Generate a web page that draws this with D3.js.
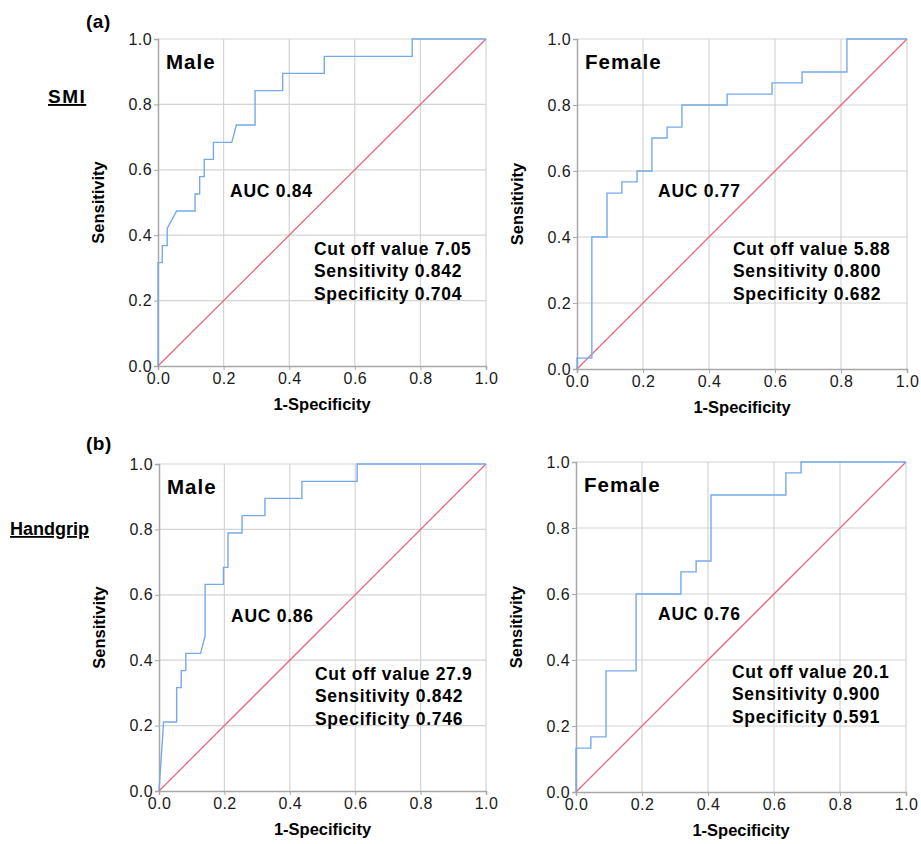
<!DOCTYPE html>
<html>
<head>
<meta charset="utf-8">
<script src="https://cdn.jsdelivr.net/npm/d3@7"></script>
<style>
  body { margin: 0; background: #fff; }
  svg { font-family: "Liberation Sans", Arial, sans-serif; }
</style>
</head>
<body>
<div id="chart"></div>
<script>
// ROC step points (1-specificity, sensitivity)
var maleSmiFpr = [0, 0, 0.013, 0.013, 0.028, 0.028, 0.057, 0.113, 0.113, 0.127, 0.127, 0.141, 0.141, 0.169, 0.169, 0.225, 0.239, 0.296, 0.296, 0.380, 0.380, 0.507, 0.507, 0.775, 0.775, 1.0];
var maleSmiTpr = [0, 0.316, 0.316, 0.368, 0.368, 0.421, 0.474, 0.474, 0.526, 0.526, 0.579, 0.579, 0.632, 0.632, 0.684, 0.684, 0.737, 0.737, 0.842, 0.842, 0.895, 0.895, 0.947, 0.947, 1, 1];

var femaleSmiFpr = [0, 0, 0.045, 0.045, 0.091, 0.091, 0.136, 0.136, 0.182, 0.182, 0.227, 0.227, 0.273, 0.273, 0.318, 0.318, 0.455, 0.455, 0.591, 0.591, 0.682, 0.682, 0.818, 0.818, 1];
var femaleSmiTpr = [0, 0.033, 0.033, 0.4, 0.4, 0.533, 0.533, 0.567, 0.567, 0.6, 0.6, 0.7, 0.7, 0.733, 0.733, 0.8, 0.8, 0.833, 0.833, 0.867, 0.867, 0.9, 0.9, 1, 1];

var maleGripFpr = [0, 0.014, 0.054, 0.054, 0.068, 0.068, 0.082, 0.082, 0.127, 0.141, 0.141, 0.197, 0.197, 0.211, 0.211, 0.254, 0.254, 0.324, 0.324, 0.437, 0.437, 0.606, 0.606, 1];
var maleGripTpr = [0, 0.211, 0.211, 0.316, 0.316, 0.368, 0.368, 0.421, 0.421, 0.474, 0.632, 0.632, 0.684, 0.684, 0.789, 0.789, 0.842, 0.842, 0.895, 0.895, 0.947, 0.947, 1, 1];

var femaleGripFpr = [0, 0, 0.045, 0.045, 0.091, 0.091, 0.182, 0.182, 0.318, 0.318, 0.364, 0.364, 0.409, 0.409, 0.636, 0.636, 0.682, 0.682, 1];
var femaleGripTpr = [0, 0.133, 0.133, 0.167, 0.167, 0.367, 0.367, 0.6, 0.6, 0.667, 0.667, 0.7, 0.7, 0.9, 0.9, 0.967, 0.967, 1, 1];

var panelTitles = ["Male", "Female", "Male", "Female"];
var aucLabels = ["AUC 0.84", "AUC 0.77", "AUC 0.86", "AUC 0.76"];
var cutLabels = ["Cut off value 7.05", "Cut off value 5.88", "Cut off value 27.9", "Cut off value 20.1"];
var sensLabels = ["Sensitivity 0.842", "Sensitivity 0.800", "Sensitivity 0.842", "Sensitivity 0.900"];
var specLabels = ["Specificity 0.704", "Specificity 0.682", "Specificity 0.746", "Specificity 0.591"];
var tickValues = [0, 0.2, 0.4, 0.6, 0.8, 1.0];

var fullWidth = 921;
var fullHeight = 844;
var curveColor = "#74aaea";
var refColor = "#e8677e";
var gridColor = "#d4d4d4";

// panel boxes in pixels
var boxes = [
  {left: 158, top: 39, w: 328, h: 327, auc: 72},
  {left: 577, top: 39, w: 330, h: 330, auc: 81},
  {left: 159, top: 464, w: 327, h: 327, auc: 72},
  {left: 576, top: 462, w: 330, h: 330, auc: 82}
];
var curves = [
  [maleSmiFpr, maleSmiTpr],
  [femaleSmiFpr, femaleSmiTpr],
  [maleGripFpr, maleGripTpr],
  [femaleGripFpr, femaleGripTpr]
];

var svg = d3.select("#chart").append("svg")
  .attr("width", fullWidth)
  .attr("height", fullHeight);

function drawPanel(i) {
  var b = boxes[i];
  var g = svg.append("g").attr("transform", "translate(" + b.left + "," + b.top + ")");
  var x = d3.scaleLinear().domain([0, 1]).range([0, b.w]);
  var y = d3.scaleLinear().domain([0, 1]).range([b.h, 0]);

  // grid
  g.selectAll(".vgrid").data(tickValues.slice(1)).enter().append("line")
    .attr("x1", function(d) { return x(d); }).attr("x2", function(d) { return x(d); })
    .attr("y1", 0).attr("y2", b.h)
    .attr("stroke", gridColor).attr("stroke-width", 1.2);
  g.selectAll(".hgrid").data(tickValues.slice(1)).enter().append("line")
    .attr("y1", function(d) { return y(d); }).attr("y2", function(d) { return y(d); })
    .attr("x1", 0).attr("x2", b.w)
    .attr("stroke", gridColor).attr("stroke-width", 1.2);

  var xAxis = d3.axisBottom(x).tickValues(tickValues).tickFormat(d3.format(".1f")).tickSize(4).tickPadding(3);
  var yAxis = d3.axisLeft(y).tickValues(tickValues).tickFormat(d3.format(".1f")).tickSize(4).tickPadding(2);

  var gx = g.append("g").attr("transform", "translate(0," + b.h + ")").call(xAxis);
  var gy = g.append("g").call(yAxis);
  [gx, gy].forEach(function(a) {
    a.select(".domain").attr("stroke", "#a8a8a8").attr("stroke-width", 1.5);
    a.selectAll(".tick line").attr("stroke", "#a8a8a8");
    a.selectAll(".tick text").attr("fill", "#1a1a1a")
      .style("font-size", "16px").style("letter-spacing", "0.4px");
  });

  // reference diagonal
  g.append("line")
    .attr("x1", x(0)).attr("y1", y(0)).attr("x2", x(1)).attr("y2", y(1))
    .attr("stroke", refColor).attr("stroke-width", 1.3);

  // ROC curve
  var pts = curves[i][0].map(function(f, k) { return [f, curves[i][1][k]]; });
  var line = d3.line().x(function(d) { return x(d[0]); }).y(function(d) { return y(d[1]); });
  g.append("path").datum(pts)
    .attr("d", line)
    .attr("fill", "none")
    .attr("stroke", curveColor)
    .attr("stroke-width", 1.4);

  // texts
  g.append("text").attr("x", 8).attr("y", 30)
    .attr("font-weight", "bold").style("font-size", "20.5px").style("letter-spacing", "1px")
    .text(panelTitles[i]);
  g.append("text").attr("x", b.auc).attr("y", 158)
    .attr("font-weight", "bold").style("font-size", "17.5px").style("letter-spacing", "0.75px")
    .text(aucLabels[i]);
  [cutLabels[i], sensLabels[i], specLabels[i]].forEach(function(t, k) {
    g.append("text").attr("x", 156).attr("y", 215.5 + k * 22.7)
      .attr("font-weight", "bold").style("font-size", "17.5px").style("letter-spacing", "0.7px")
      .text(t);
  });

  g.append("text")
    .attr("transform", "translate(" + (-54) + "," + (b.h / 2) + ") rotate(-90)")
    .attr("text-anchor", "middle")
    .attr("font-weight", "bold").style("font-size", "16.5px")
    .text("Sensitivity");
  g.append("text")
    .attr("x", b.w / 2).attr("y", b.h + 44)
    .attr("text-anchor", "middle")
    .attr("font-weight", "bold").style("font-size", "16.5px")
    .text("1-Specificity");
}

for (var i = 0; i < 4; i++) drawPanel(i);

// panel letters and row labels
svg.append("text").attr("x", 86).attr("y", 28).attr("font-weight", "bold").style("font-size", "19px")
  .style("letter-spacing", "0.5px").text("(a)");
svg.append("text").attr("x", 86).attr("y", 450).attr("font-weight", "bold").style("font-size", "19px")
  .style("letter-spacing", "0.5px").text("(b)");
svg.append("text").attr("x", 48).attr("y", 103).attr("font-weight", "bold").style("font-size", "19px")
  .style("letter-spacing", "1.5px").style("text-decoration", "underline").text("SMI");
svg.append("text").attr("x", 10).attr("y", 535).attr("font-weight", "bold").style("font-size", "18px")
  .style("text-decoration", "underline").text("Handgrip");
</script>
</body>
</html>
